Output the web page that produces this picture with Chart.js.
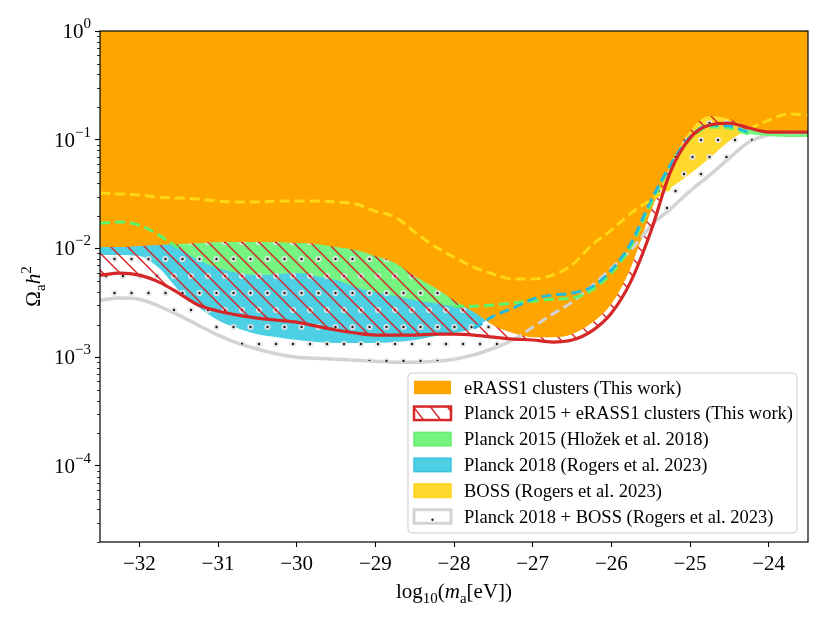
<!doctype html>
<html>
<head>
    <title>Axion density constraints</title>
    <script src="https://cdn.jsdelivr.net/npm/chart.js@4.4.1/dist/chart.umd.min.js"></script>
    <style>
    html, body { margin: 0; padding: 0; background: #fff; }
    canvas { display: block; }
    </style>
</head>
<body>
    <canvas id="canvas" width="830" height="623"></canvas>
    <script>
        // log10(m_a [eV]) grid the bounds were read on
        var logMass = [-32.5, -32.25, -32, -31.75, -31.5, -31.25, -31, -30.75, -30.5, -30.25, -30, -29.75, -29.5, -29.25, -29, -28.75, -28.5, -28.25, -28, -27.75, -27.5, -27.25, -27, -26.75, -26.5, -26.25, -26, -25.75, -25.5, -25.25, -25, -24.75, -24.5, -24.25, -24, -23.75, -23.5];

        // upper bounds on Omega_a h^2 (excluded above)
        var erassBound = [0.0103, 0.0103, 0.01052, 0.01075, 0.01098, 0.01121, 0.01145, 0.01145, 0.01145, 0.01145, 0.01121, 0.01098, 0.0103, 0.00967, 0.00851, 0.00734, 0.00557, 0.00441, 0.00335, 0.0026, 0.00197, 0.00167, 0.00153, 0.00153, 0.00163, 0.00206, 0.00308, 0.00674, 0.02162, 0.0585, 0.1202, 0.1652, 0.155, 0.1308, 0.1177, 0.1177, 0.1177];
        var jointBound = [0.00569, 0.00594, 0.00569, 0.00491, 0.00389, 0.00302, 0.00266, 0.00244, 0.00229, 0.00219, 0.0021, 0.00193, 0.00178, 0.00167, 0.0016, 0.0016, 0.0016, 0.00163, 0.00163, 0.0016, 0.00153, 0.00147, 0.00144, 0.00138, 0.00144, 0.00174, 0.00254, 0.00501, 0.01416, 0.05045, 0.1036, 0.1365, 0.1424, 0.1281, 0.1177, 0.1177, 0.1177];
        var planck15Bound = [0.01712, 0.01749, 0.01642, 0.01328, 0.01009, 0.00782, 0.0066, 0.00594, 0.00569, 0.00581, 0.00594, 0.00557, 0.00512, 0.00441, 0.00397, 0.00365, 0.00335, 0.00315, 0.00295, 0.00295, 0.00302, 0.00315, 0.00328, 0.00342, 0.0035, 0.00414, 0.00594, 0.01052, 0.02561, 0.05608, 0.1015, 0.1308, 0.1281, 0.1128, 0.1081, 0.1059, 0.1059];
        var planck18Bound = [0.0087, 0.0087, 0.00851, 0.0066, 0.00414, 0.00289, 0.00219, 0.00185, 0.00163, 0.00153, 0.00144, 0.00138, 0.00135, 0.00135, 0.00135, 0.00138, 0.00144, 0.00156, 0.00167, 0.00185, 0.00239, 0.00283, 0.00342, 0.00373, 0.00389, 0.00441, 0.00633, 0.01121, 0.02729, 0.0585, 0.1059, 0.1365, 0.1336, 0.1177, 0.1128, 0.1104, 0.1104];
        var bossBound = [0.03233, 0.03165, 0.03099, 0.02971, 0.02909, 0.02848, 0.02729, 0.02672, 0.02672, 0.02729, 0.02729, 0.02729, 0.02672, 0.02561, 0.02208, 0.01945, 0.01416, 0.01052, 0.00834, 0.00674, 0.00581, 0.00523, 0.00523, 0.00569, 0.00704, 0.01075, 0.01476, 0.02116, 0.02788, 0.03595, 0.04836, 0.06786, 0.09727, 0.1254, 0.1518, 0.1723, 0.1687];
        var comboBound = [0.00335, 0.0035, 0.00342, 0.00295, 0.00244, 0.00197, 0.0016, 0.00135, 0.00119, 0.00107, 0.001, 0.00098, 0.00096, 0.00094, 0.00092, 0.0009, 0.0009, 0.00092, 0.00096, 0.00105, 0.00121, 0.00144, 0.00189, 0.00249, 0.00321, 0.00451, 0.0066, 0.00967, 0.01607, 0.02304, 0.03373, 0.04735, 0.06786, 0.09523, 0.1104, 0.1152, 0.1177];

        var massTicks = [-32, -31, -30, -29, -28, -27, -26, -25, -24];
        var densityPowers = [0, -1, -2, -3, -4];

        var legendLabels = [
            'eRASS1 clusters (This work)',
            'Planck 2015 + eRASS1 clusters (This work)',
            'Planck 2015 (Hlo\u017eek et al. 2018)',
            'Planck 2018 (Rogers et al. 2023)',
            'BOSS (Rogers et al. 2023)',
            'Planck 2018 + BOSS (Rogers et al. 2023)'
        ];

        var serif = '"Liberation Serif", "DejaVu Serif", serif';
        var ORANGE = '#FFA500', RED = '#d62728', GREEN = '#76F582', BLUE = '#4DCFE4', YELLOW = '#FFDA2D', GREY = '#d3d3d3';
        var NONE = 'rgba(0,0,0,0)';

        function series(vals) {
            return vals.map(function(v, i) { return { x: logMass[i], y: v }; });
        }

        function makeDots() {
            var c = document.createElement('canvas');
            c.width = 34; c.height = 34;
            var g = c.getContext('2d');
            [[4, 4], [21, 4], [12.5, 21], [29.5, 21]].forEach(function(p) {
                g.fillStyle = 'rgba(228,228,228,0.92)';
                g.beginPath(); g.arc(p[0], p[1], 3.1, 0, 2 * Math.PI); g.fill();
                g.fillStyle = '#1a1a1a';
                g.beginPath(); g.arc(p[0], p[1], 1.2, 0, 2 * Math.PI); g.fill();
            });
            return g.createPattern(c, 'repeat');
        }

        function makeHatch() {
            var s = 17;
            var c = document.createElement('canvas');
            c.width = s; c.height = s;
            var g = c.getContext('2d');
            g.strokeStyle = RED;
            g.lineWidth = 1.5;
            [-s, 0, s].forEach(function(o) {
                g.beginPath();
                g.moveTo(o - 1, -1);
                g.lineTo(o + s + 1, s + 1);
                g.stroke();
            });
            return g.createPattern(c, 'repeat');
        }

        var dotFill = makeDots();
        var hatchFill = makeHatch();

        // a bound only shows as a dashed line where another fill hides it
        var hiddenUnderBoss = erassBound.map(function(v, i) { return Math.min(v, bossBound[i]); });
        function hiddenColor(vals, cover, color) {
            return function(ctx) {
                var i = ctx.p0DataIndex, j = ctx.p1DataIndex;
                var a = vals[i] >= cover[i] * 0.98, b = vals[j] >= cover[j] * 0.98;
                return (a || b) ? color : NONE;
            };
        }

        function areaSet(label, vals, bg, order) {
            return {
                label: label, data: series(vals), fill: 'end',
                backgroundColor: bg, borderColor: NONE, borderWidth: 0,
                order: order
            };
        }

        function dashSet(label, vals, cover, color, order) {
            return {
                label: label, data: series(vals), fill: false,
                borderColor: color, borderWidth: 3, borderDash: [10, 5],
                segment: { borderColor: hiddenColor(vals, cover, color) },
                order: order
            };
        }

        var datasets = [
            areaSet(legendLabels[0], erassBound, ORANGE, 4),
            areaSet(legendLabels[1], jointBound, hatchFill, 5),
            areaSet(legendLabels[2], planck15Bound, GREEN, 8),
            areaSet(legendLabels[3], planck18Bound, BLUE, 9),
            areaSet(legendLabels[4], bossBound, YELLOW, 7),
            {
                label: legendLabels[5], data: series(comboBound), fill: 'end',
                backgroundColor: '#ffffff', borderColor: GREY, borderWidth: 3.5, order: 10
            },
            areaSet('combo dots', comboBound, dotFill, 6),
            dashSet('combo edge', comboBound, erassBound, GREY, 3),
            dashSet('Planck 2015 edge', planck15Bound, hiddenUnderBoss, '#5ef56c', 2.6),
            dashSet('Planck 2018 edge', planck18Bound, hiddenUnderBoss, '#22BBDD', 2.4),
            dashSet('BOSS edge', bossBound, erassBound, '#FFD814', 2.2),
            {
                label: 'joint edge', data: series(jointBound), fill: false,
                borderColor: RED, borderWidth: 3.2, order: 0
            }
        ];

        function drawParts(c, parts, x, y, align) {
            var total = 0;
            parts.forEach(function(p) {
                c.font = (p.italic ? 'italic ' : '') + p.size + 'px ' + serif;
                p.w = c.measureText(p.t).width;
                total += p.w;
            });
            var cx = align === 'right' ? x - total : (align === 'center' ? x - total / 2 : x);
            c.textAlign = 'left';
            c.textBaseline = 'alphabetic';
            parts.forEach(function(p) {
                c.font = (p.italic ? 'italic ' : '') + p.size + 'px ' + serif;
                c.fillText(p.t, cx, y + (p.dy || 0));
                cx += p.w;
            });
        }

        function swatch(c, i, x, y, w, h) {
            c.save();
            if (i === 0) {
                c.fillStyle = ORANGE; c.fillRect(x, y, w, h);
            } else if (i === 1) {
                c.fillStyle = '#fff'; c.fillRect(x, y, w, h);
                c.save(); c.beginPath(); c.rect(x, y, w, h); c.clip();
                c.strokeStyle = RED; c.lineWidth = 1.5;
                [4, 21, 38].forEach(function(o) {
                    c.beginPath(); c.moveTo(x + o - 8, y - 4); c.lineTo(x + o + 12, y + h + 8); c.stroke();
                });
                c.restore();
                c.strokeStyle = RED; c.lineWidth = 2.5; c.strokeRect(x, y, w, h);
            } else if (i === 5) {
                c.fillStyle = '#fff'; c.fillRect(x, y, w, h);
                c.strokeStyle = GREY; c.lineWidth = 3; c.strokeRect(x, y, w, h);
                c.fillStyle = '#1a1a1a';
                c.beginPath(); c.arc(x + w / 2, y + h - 3.5, 1.2, 0, 2 * Math.PI); c.fill();
            } else {
                var fills = [null, null, GREEN, BLUE, YELLOW];
                var edges = [null, null, '#66EE70', '#38C4E0', '#FFD21F'];
                c.fillStyle = fills[i]; c.fillRect(x, y, w, h);
                c.strokeStyle = edges[i]; c.lineWidth = 1.5; c.strokeRect(x, y, w, h);
            }
            c.restore();
        }

        var decorations = {
            id: 'decorations',
            afterDraw: function(chart) {
                var c = chart.ctx, a = chart.chartArea, ys = chart.scales.y;
                c.save();

                // minor log ticks
                c.strokeStyle = '#000';
                c.lineWidth = 0.8;
                for (var p = -5; p < 0; p++) {
                    for (var k = 2; k < 10; k++) {
                        var v = k * Math.pow(10, p);
                        if (v < ys.min * 0.999 || v > ys.max) continue;
                        var py = Math.round(ys.getPixelForValue(v)) + 0.5;
                        c.beginPath(); c.moveTo(a.left - 3, py); c.lineTo(a.left, py); c.stroke();
                    }
                }

                // frame
                c.lineWidth = 1.2;
                c.strokeRect(a.left, a.top, a.right - a.left, a.bottom - a.top);

                // y tick labels with superscripts
                c.fillStyle = '#000';
                densityPowers.forEach(function(pw) {
                    var y = ys.getPixelForValue(Math.pow(10, pw));
                    var sup = pw === 0 ? '0' : '\u2212' + Math.abs(pw);
                    drawParts(c, [
                        { t: '10', size: 21 },
                        { t: sup, size: 15, dy: -10 }
                    ], a.left - 9, y + 7, 'right');
                });

                // x axis title
                drawParts(c, [
                    { t: 'log', size: 21 },
                    { t: '10', size: 15, dy: 5 },
                    { t: '(', size: 21 },
                    { t: 'm', size: 21, italic: true },
                    { t: 'a', size: 15, dy: 5 },
                    { t: '[eV])', size: 21 }
                ], (a.left + a.right) / 2, 598, 'center');

                // y axis title
                c.save();
                c.translate(40, (a.top + a.bottom) / 2);
                c.rotate(-Math.PI / 2);
                drawParts(c, [
                    { t: '\u03a9', size: 21 },
                    { t: 'a', size: 15, dy: 5 },
                    { t: 'h', size: 21, italic: true },
                    { t: '2', size: 15, dy: -9 }
                ], 0, 0, 'center');
                c.restore();

                // legend box
                var bx = 408, by = 373, bw = 389, bh = 160, r = 4;
                c.beginPath();
                c.moveTo(bx + r, by);
                c.arcTo(bx + bw, by, bx + bw, by + bh, r);
                c.arcTo(bx + bw, by + bh, bx, by + bh, r);
                c.arcTo(bx, by + bh, bx, by, r);
                c.arcTo(bx, by, bx + bw, by, r);
                c.closePath();
                c.fillStyle = 'rgba(255,255,255,0.85)';
                c.fill();
                c.strokeStyle = '#cccccc';
                c.lineWidth = 1;
                c.stroke();

                legendLabels.forEach(function(label, i) {
                    var cy = 387.5 + i * 25.8;
                    swatch(c, i, 414, cy - 6.75, 37, 13.5);
                    c.fillStyle = '#000';
                    drawParts(c, [{ t: label, size: 18.5 }], 464, cy + 6, 'left');
                });

                c.restore();
            }
        };

        var tickGrid = {
            drawOnChartArea: false, drawTicks: true,
            tickLength: 5, tickWidth: 1.1, tickColor: '#000'
        };

        window.onload = function() {
            var ctx = document.getElementById('canvas').getContext('2d');
            window.myChart = new Chart(ctx, {
                type: 'line',
                data: { datasets: datasets },
                options: {
                    responsive: false,
                    animation: false,
                    devicePixelRatio: 1,
                    layout: { padding: { top: 31, right: 22, left: 0, bottom: 0 } },
                    elements: {
                        point: { radius: 0 },
                        line: { cubicInterpolationMode: 'monotone' }
                    },
                    plugins: {
                        legend: { display: false },
                        tooltip: { enabled: false }
                    },
                    scales: {
                        x: {
                            type: 'linear', min: -32.5, max: -23.5,
                            afterBuildTicks: function(s) {
                                s.ticks = massTicks.map(function(v) { return { value: v }; });
                            },
                            afterFit: function(s) { s.height = 81; },
                            grid: tickGrid,
                            border: { display: false },
                            ticks: {
                                color: '#000', padding: 5, maxRotation: 0, autoSkip: false,
                                font: { family: serif, size: 21 },
                                callback: function(v) { return (v < 0 ? '\u2212' : '') + Math.abs(v); }
                            }
                        },
                        y: {
                            type: 'logarithmic', min: 2e-5, max: 1,
                            afterBuildTicks: function(s) {
                                s.ticks = densityPowers.map(function(p) { return { value: Math.pow(10, p), major: true }; });
                            },
                            afterFit: function(s) { s.width = 100; },
                            grid: tickGrid,
                            border: { display: false },
                            ticks: { display: false }
                        }
                    }
                },
                plugins: [decorations]
            });
        };
    </script>
</body>
</html>
